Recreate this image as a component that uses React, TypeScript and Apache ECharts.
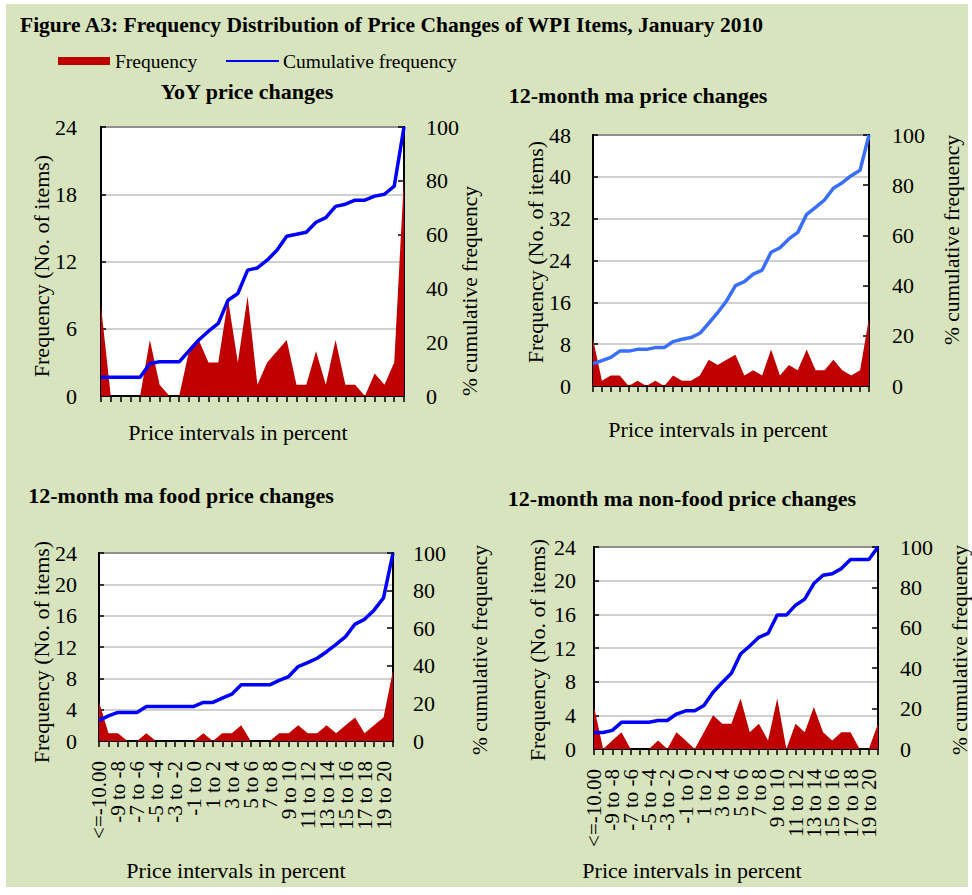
import React, { useEffect, useRef } from "react";
import * as echarts from "echarts";

const categories = [
  "<=-10.00", "-10 to -9", "-9 to -8", "-8 to -7", "-7 to -6", "-6 to -5", "-5 to -4", "-4 to -3",
  "-3 to -2", "-2 to -1", "-1 to 0", "0 to 1", "1 to 2", "2 to 3", "3 to 4", "4 to 5",
  "5 to 6", "6 to 7", "7 to 8", "8 to 9", "9 to 10", "10 to 11", "11 to 12", "12 to 13",
  "13 to 14", "14 to 15", "15 to 16", "16 to 17", "17 to 18", "18 to 19", "19 to 20", ">20",
];

const yoyFreq = [8, 0, 0, 0, 0, 5, 1, 0, 0, 4, 5, 3, 3, 8.6, 3, 8.9, 1, 3, 4, 5, 1, 1, 4, 1, 5, 1, 1, 0, 2, 1, 3, 19.5];
const yoyCum = [7, 7, 7, 7, 7, 12.1, 12.7, 12.7, 12.7, 16.8, 20.8, 24.1, 27, 35.6, 38.1, 46.8, 47.6, 50.5, 54.2, 59.4, 60.1, 60.9, 64.6, 66.3, 70.5, 71.3, 72.8, 72.8, 74.3, 75, 78, 100];

const maFreq = [9, 1, 2, 2, 0, 1, 0, 1, 0, 2, 1, 1, 2, 5, 4, 5, 6, 2, 3, 2, 7, 2, 4, 3, 7, 3, 3, 5, 3, 2, 3, 13];
const maCum = [8.8, 10.1, 11.4, 13.9, 13.9, 14.6, 14.6, 15.3, 15.3, 17.7, 18.6, 19.3, 21, 25, 29.2, 33.9, 40, 41.6, 44.6, 46.2, 53.3, 55.1, 58.6, 61.2, 68.4, 71.2, 74.1, 78.8, 81, 83.8, 86, 100];

const foodFreq = [5, 1, 1, 0, 0, 1, 0, 0, 0, 0, 0, 1, 0, 1, 1, 2, 0, 0, 0, 1, 1, 2, 1, 1, 2, 1, 2, 3, 1, 2, 3, 9];
const foodCum = [11, 13.4, 15.2, 15.2, 15.2, 18.4, 18.4, 18.4, 18.4, 18.4, 18.4, 20.5, 20.5, 22.8, 24.9, 29.9, 29.9, 29.9, 29.9, 32.2, 34.3, 39.6, 41.7, 44, 47.5, 51.4, 55.5, 62.2, 64.7, 69.6, 76.1, 100];

const nonFoodFreq = [5, 0, 1, 2, 0, 0, 0, 1, 0, 2, 1, 0, 2, 4, 3, 3, 6, 2, 3, 1, 6, 0, 3, 2, 5, 2, 1, 2, 2, 0, 0, 3];
const nonFoodCum = [8.2, 8.2, 9.2, 13.2, 13.2, 13.2, 13.2, 14.1, 14.1, 17.3, 18.9, 18.9, 21.5, 28.1, 32.9, 37.5, 47, 51, 55.3, 57.2, 66.3, 66.3, 71.2, 74.2, 81.9, 86, 86.8, 89.3, 93.8, 93.8, 93.8, 100];

const mainTitle = "Figure A3: Frequency Distribution of Price Changes of WPI Items, January 2010";
const panelTitles = [
  "YoY price changes",
  "12-month ma price changes",
  "12-month ma food price changes",
  "12-month ma non-food price changes",
];
const leftAxisName = "Frequency (No. of items)";
const rightAxisName = "% cumulative frequency";
const xAxisName = "Price intervals in percent";
const legendNames = ["Frequency", "Cumulative frequency"];

const FONT = '"Liberation Serif", "Times New Roman", serif';
const RED = "#C00000";
const BG = "#D7E4BD";

type PanelLayout = {
  left: number; top: number; width: number; height: number;
  leftMax: number; leftInterval: number;
  blue: string; showLabels: boolean;
  leftMargin: number; rightMargin: number;
  titleX: number; titleY: number;
  lNameX: number; lNameY: number;
  rNameX: number; rNameY: number;
  xNameX: number; xNameY: number;
};

const layouts: PanelLayout[] = [
  { left: 101, top: 127, width: 303, height: 269, leftMax: 24, leftInterval: 6, blue: "#0000FF", showLabels: false,
    leftMargin: 24, rightMargin: 22, titleX: 247, titleY: 91, lNameX: 41, lNameY: 266, rNameX: 470, rNameY: 291, xNameX: 238, xNameY: 432 },
  { left: 593, top: 135, width: 276, height: 251, leftMax: 48, leftInterval: 8, blue: "#3A6EFF", showLabels: false,
    leftMargin: 22, rightMargin: 23, titleX: 638, titleY: 95, lNameX: 535, lNameY: 252, rNameX: 952, rNameY: 240, xNameX: 718, xNameY: 429 },
  { left: 99, top: 553, width: 294, height: 188, leftMax: 24, leftInterval: 4, blue: "#0000FF", showLabels: true,
    leftMargin: 22, rightMargin: 20, titleX: 181, titleY: 495, lNameX: 41, lNameY: 652, rNameX: 480, rNameY: 650, xNameX: 236, xNameY: 870 },
  { left: 594, top: 547, width: 284, height: 202, leftMax: 24, leftInterval: 4, blue: "#0000FF", showLabels: true,
    leftMargin: 18, rightMargin: 22, titleX: 682, titleY: 498, lNameX: 537, lNameY: 650, rNameX: 960, rNameY: 650, xNameX: 692, xNameY: 870 },
];

const freqData = [yoyFreq, maFreq, foodFreq, nonFoodFreq];
const cumData = [yoyCum, maCum, foodCum, nonFoodCum];

export default function App() {
  const ref = useRef<HTMLDivElement>(null);

  useEffect(() => {
    if (!ref.current) return;
    const chart = echarts.init(ref.current, null, { renderer: "svg" });

    const grids: any[] = [];
    const xAxes: any[] = [];
    const yAxes: any[] = [];
    const series: any[] = [];
    const graphics: any[] = [];

    graphics.push({ type: "rect", shape: { x: 6, y: 4, width: 962, height: 883 }, style: { fill: BG }, z: -10, silent: true });
    graphics.push({ type: "text", x: 20, y: 25, style: { text: mainTitle, font: `bold 21.5px ${FONT}`, fill: "#000", align: "left", verticalAlign: "middle" } });
    // legend
    graphics.push({ type: "rect", shape: { x: 58, y: 57, width: 52, height: 8 }, style: { fill: RED } });
    graphics.push({ type: "text", x: 115, y: 61, style: { text: legendNames[0], font: `19.5px ${FONT}`, fill: "#000", align: "left", verticalAlign: "middle" } });
    graphics.push({ type: "line", shape: { x1: 226, y1: 61, x2: 279, y2: 61 }, style: { stroke: "#0000FF", lineWidth: 2 } });
    graphics.push({ type: "text", x: 283, y: 61, style: { text: legendNames[1], font: `19.5px ${FONT}`, fill: "#000", align: "left", verticalAlign: "middle" } });

    layouts.forEach((L, i) => {
      grids.push({ left: L.left, top: L.top, width: L.width, height: L.height, show: true, backgroundColor: "#fff", borderColor: "#000", borderWidth: 2, containLabel: false });
      // label axis (carries the series)
      xAxes.push({
        gridIndex: i, type: "category", data: categories, boundaryGap: false, position: "bottom", offset: 0,
        axisLine: { show: true, lineStyle: { color: "#000", width: 2 } },
        axisTick: { show: false },
        axisLabel: {
          show: L.showLabels, interval: 0, showMinLabel: true, hideOverlap: false,
          formatter: (value: string, idx: number) => (idx % 2 === 0 ? value : ""),
          rotate: 90, fontSize: 21, color: "#000", fontFamily: FONT, margin: 20,
        },
        splitLine: { show: false },
      });
      // tick axis
      xAxes.push({
        gridIndex: i, type: "category", data: categories, boundaryGap: false, position: "bottom", offset: 0,
        axisLine: { show: false },
        axisTick: { show: true, interval: 0, length: 6, inside: false, lineStyle: { color: "#000", width: 1.5 } },
        axisLabel: { show: false },
        splitLine: { show: false },
      });
      yAxes.push({
        gridIndex: i, type: "value", min: 0, max: L.leftMax, interval: L.leftInterval, position: "left",
        axisLine: { show: true, lineStyle: { color: "#000", width: 2 } },
        axisTick: { show: true, inside: true, length: 5, lineStyle: { color: "#000", width: 1.5 } },
        axisLabel: { fontSize: 22, color: "#000", fontFamily: FONT, margin: L.leftMargin },
        splitLine: { show: true, lineStyle: { color: "#C0C0C0", width: 1.5 } },
      });
      yAxes.push({
        gridIndex: i, type: "value", min: 0, max: 100, interval: 20, position: "right",
        axisLine: { show: true, lineStyle: { color: "#000", width: 2 } },
        axisTick: { show: true, inside: true, length: 6, lineStyle: { color: "#000", width: 1.5 } },
        axisLabel: { fontSize: 22, color: "#000", fontFamily: FONT, margin: L.rightMargin },
        splitLine: { show: false },
      });
      series.push({
        name: legendNames[0], type: "line", xAxisIndex: 2 * i, yAxisIndex: 2 * i, data: freqData[i],
        symbol: "none", lineStyle: { width: 0 }, areaStyle: { color: RED, opacity: 1 }, itemStyle: { color: RED }, z: 2,
      });
      series.push({
        name: legendNames[1], type: "line", xAxisIndex: 2 * i, yAxisIndex: 2 * i + 1, data: cumData[i],
        symbol: "none", lineStyle: { color: L.blue, width: 3.5 }, itemStyle: { color: L.blue }, z: 3,
      });
      graphics.push({ type: "text", x: L.titleX, y: L.titleY, style: { text: panelTitles[i], font: `bold 22px ${FONT}`, fill: "#000", align: "center", verticalAlign: "middle" } });
      graphics.push({ type: "text", x: L.lNameX, y: L.lNameY, rotation: Math.PI / 2, style: { text: leftAxisName, font: `22px ${FONT}`, fill: "#000", align: "center", verticalAlign: "middle" } });
      graphics.push({ type: "text", x: L.rNameX, y: L.rNameY, rotation: Math.PI / 2, style: { text: rightAxisName, font: `21.5px ${FONT}`, fill: "#000", align: "center", verticalAlign: "middle" } });
      graphics.push({ type: "text", x: L.xNameX, y: L.xNameY, style: { text: xAxisName, font: `22px ${FONT}`, fill: "#000", align: "center", verticalAlign: "middle" } });
    });

    chart.setOption({
      animation: false,
      backgroundColor: "#fff",
      textStyle: { fontFamily: FONT },
      grid: grids,
      xAxis: xAxes,
      yAxis: yAxes,
      series,
      graphic: graphics,
    });

    return () => chart.dispose();
  }, []);

  return <div ref={ref} style={{ position: "absolute", left: 0, top: 0, width: 972, height: 895 }} />;
}
